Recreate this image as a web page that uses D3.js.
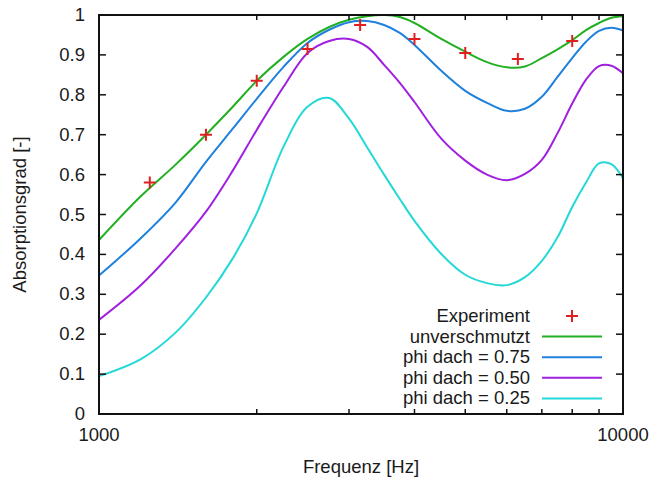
<!DOCTYPE html>
<html>
<head>
<meta charset="utf-8">
<script src="https://cdn.jsdelivr.net/npm/d3@7"></script>
<style>
  body { margin: 0; background: #fff; }
  svg text { font-family: "Liberation Sans", Arial, sans-serif; font-size: 18.5px; fill: #1a1a1a; }
</style>
</head>
<body>
<svg id="chart" width="666" height="477"></svg>
<script>
// Frequency grid for the simulated curves (Hz)
const freqs = [1000, 1200, 1400, 1600, 1800, 2000, 2250, 2500, 2750, 3000, 3250, 3500, 3750,
               4000, 4500, 5000, 5500, 6000, 6500, 7000, 7500, 8000, 8500, 9000, 9500, 10000];

// Absorption coefficients
const unverschmutzt = [0.436, 0.545, 0.625, 0.700, 0.770, 0.835, 0.895, 0.940, 0.970, 0.988, 0.997, 1.000, 0.995,
                       0.980, 0.940, 0.908, 0.882, 0.869, 0.871, 0.892, 0.914, 0.937, 0.962, 0.980, 0.993, 0.997];
const phi075 = [0.347, 0.440, 0.530, 0.632, 0.715, 0.790, 0.870, 0.930, 0.963, 0.982, 0.985, 0.975, 0.955,
                0.925, 0.860, 0.810, 0.780, 0.760, 0.765, 0.795, 0.845, 0.892, 0.933, 0.960, 0.968, 0.961];
const phi050 = [0.236, 0.322, 0.415, 0.507, 0.610, 0.712, 0.820, 0.905, 0.935, 0.940, 0.920, 0.875, 0.830,
                0.782, 0.690, 0.635, 0.600, 0.586, 0.602, 0.637, 0.704, 0.778, 0.838, 0.872, 0.873, 0.854];
const phi025 = [0.095, 0.137, 0.204, 0.292, 0.390, 0.503, 0.670, 0.770, 0.792, 0.740, 0.668, 0.600, 0.539,
                0.484, 0.401, 0.349, 0.328, 0.323, 0.343, 0.384, 0.443, 0.519, 0.580, 0.628, 0.626, 0.591];

// Measured points
const expFreqs = [1250, 1600, 2000, 2500, 3150, 4000, 5000, 6300, 8000];
const expValues = [0.58, 0.70, 0.835, 0.915, 0.975, 0.94, 0.905, 0.89, 0.935];

const seriesNames = ["unverschmutzt", "phi dach = 0.75", "phi dach = 0.50", "phi dach = 0.25"];
const seriesValues = [unverschmutzt, phi075, phi050, phi025];
const seriesColors = ["#22b022", "#1f80dd", "#a020e0", "#25d8d8"];

const yTicks = [0, 0.1, 0.2, 0.3, 0.4, 0.5, 0.6, 0.7, 0.8, 0.9, 1];
const xMinorTicks = [2000, 3000, 4000, 5000, 6000, 7000, 8000, 9000];

// Plot area
const margin = {left: 99, right: 43, top: 15, bottom: 63};
const width = 666, height = 477;

const svg = d3.select("#chart");

const x = d3.scaleLog().domain([1000, 10000]).range([margin.left, width - margin.right]);
const y = d3.scaleLinear().domain([0, 1]).range([height - margin.bottom, margin.top]);

// curves
const line = d3.line()
  .x((d, i) => x(freqs[i]))
  .y(d => y(d))
  .curve(d3.curveCatmullRom.alpha(0.5));

seriesValues.forEach((vals, k) => {
  svg.append("path")
    .datum(vals)
    .attr("d", line)
    .attr("fill", "none")
    .attr("stroke", seriesColors[k])
    .attr("stroke-width", 2);
});

// experiment crosses
function cross(g, cx, cy) {
  g.append("path")
    .attr("d", `M${cx - 6},${cy}H${cx + 6}M${cx},${cy - 6}V${cy + 6}`)
    .attr("stroke", "#e02020")
    .attr("stroke-width", 2)
    .attr("fill", "none");
}
const expG = svg.append("g");
expFreqs.forEach((f, i) => cross(expG, x(f), y(expValues[i])));

// frame
const x0 = x.range()[0], x1 = x.range()[1], y0 = y.range()[0], y1 = y.range()[1];
svg.append("rect")
  .attr("x", x0).attr("y", y1)
  .attr("width", x1 - x0).attr("height", y0 - y1)
  .attr("fill", "none").attr("stroke", "#111").attr("stroke-width", 2);

// y ticks, inward on both sides
const axes = svg.append("g").attr("stroke", "#111").attr("stroke-width", 1.5);
yTicks.forEach(t => {
  axes.append("line").attr("x1", x0).attr("x2", x0 + 7).attr("y1", y(t)).attr("y2", y(t));
  axes.append("line").attr("x1", x1).attr("x2", x1 - 7).attr("y1", y(t)).attr("y2", y(t));
});
xMinorTicks.forEach(t => {
  axes.append("line").attr("x1", x(t)).attr("x2", x(t)).attr("y1", y0).attr("y2", y0 - 5);
  axes.append("line").attr("x1", x(t)).attr("x2", x(t)).attr("y1", y1).attr("y2", y1 + 5);
});

// tick labels
svg.selectAll(".ylab").data(yTicks).enter().append("text")
  .attr("x", x0 - 14)
  .attr("y", d => y(d) + 6)
  .attr("text-anchor", "end")
  .text(d => d3.format("")(d));

[1000, 10000].forEach(t => {
  svg.append("text")
    .attr("x", x(t)).attr("y", y0 + 27)
    .attr("text-anchor", "middle")
    .text(t);
});

// axis titles
svg.append("text")
  .attr("x", (x0 + x1) / 2).attr("y", 473)
  .attr("text-anchor", "middle")
  .text("Frequenz [Hz]");

svg.append("text")
  .attr("transform", `translate(26,${(y0 + y1) / 2}) rotate(-90)`)
  .attr("text-anchor", "middle")
  .text("Absorptionsgrad [-]");

// legend
const legend = svg.append("g");
const legX = 530, legY = 316, legStep = 20.6;
legend.append("text").attr("x", legX).attr("y", legY + 6).attr("text-anchor", "end").text("Experiment");
cross(legend, 572, legY);
seriesNames.forEach((name, k) => {
  const ly = legY + legStep * (k + 1);
  legend.append("text").attr("x", legX).attr("y", ly + 6).attr("text-anchor", "end").text(name);
  legend.append("line")
    .attr("x1", 542).attr("x2", 602).attr("y1", ly).attr("y2", ly)
    .attr("stroke", seriesColors[k]).attr("stroke-width", 2);
});
</script>
</body>
</html>
